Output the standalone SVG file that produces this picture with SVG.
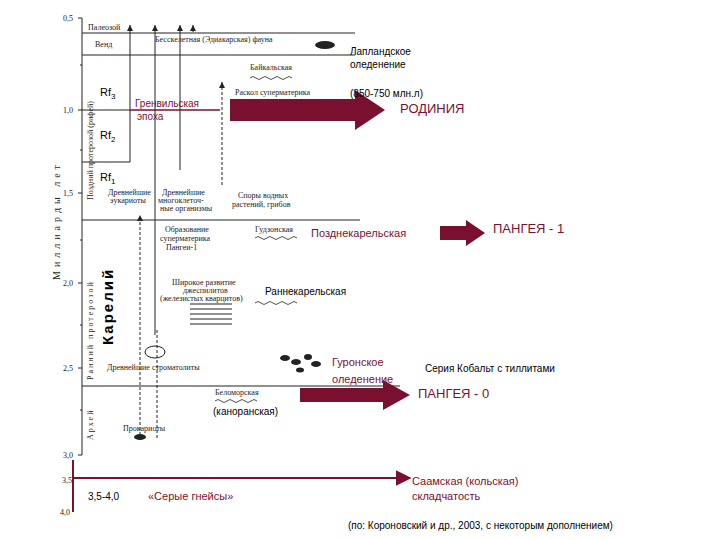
<svg xmlns="http://www.w3.org/2000/svg" width="720" height="540" viewBox="0 0 720 540">
<style>
.s{font-family:"Liberation Serif",serif;font-size:8px;fill:#222}
.a{font-family:"Liberation Sans",sans-serif;font-size:10px;fill:#000}
.r{font-family:"Liberation Sans",sans-serif;fill:#7a1030}
.ln{stroke:#222;stroke-width:1;fill:none}
.d{stroke:#222;stroke-width:1;stroke-dasharray:3 2;fill:none}
.w{stroke:#222;stroke-width:0.8;fill:none}
.big{fill:#7a1030}
</style>
<defs>
<marker id="ah" viewBox="0 0 6 6" refX="6" refY="3" markerWidth="6" markerHeight="6" orient="auto"><path d="M0,0 L6,3 L0,6Z" fill="#222"/></marker>
<marker id="rh" viewBox="0 0 10 10" refX="9" refY="5" markerWidth="8" markerHeight="8" orient="auto"><path d="M0,0 L10,5 L0,10Z" fill="#7a1030"/></marker>
<path id="wv" d="M0,0 q3,-3 6,0 q3,3 6,0 q3,-3 6,0 q3,3 6,0 q3,-3 6,0 q3,3 6,0 q3,-3 6,0"/>
</defs>
<rect width="720" height="540" fill="#fff"/>
<g id="axes">
<line class="ln" x1="82" y1="18" x2="82" y2="455"/>
<line class="ln" x1="78" y1="18" x2="82" y2="18"/>
<g class="ln"><line x1="78" y1="110" x2="82" y2="110"/><line x1="78" y1="193" x2="82" y2="193"/><line x1="78" y1="283" x2="82" y2="283"/><line x1="78" y1="368" x2="82" y2="368"/><line x1="78" y1="455" x2="82" y2="455"/>
<line x1="80" y1="65" x2="82" y2="65"/><line x1="80" y1="150" x2="82" y2="150"/><line x1="80" y1="240" x2="82" y2="240"/><line x1="80" y1="325" x2="82" y2="325"/><line x1="80" y1="410" x2="82" y2="410"/></g>
<text class="s" x="63" y="21">0,5</text><text class="s" x="63" y="113">1,0</text><text class="s" x="63" y="196">1,5</text><text class="s" x="63" y="286">2,0</text><text class="s" x="63" y="371">2,5</text><text class="s" x="63" y="458">3,0</text>
<text class="s" x="62" y="483">3,5</text><text class="s" x="60" y="515">4,0</text>
<text class="s" style="font-size:10px;letter-spacing:4px" transform="translate(60,280) rotate(-90)">Миллиарды лет</text>
<text class="s" transform="translate(93,200) rotate(-90)">Поздний протерозой (рифей)</text>
<text class="s" style="letter-spacing:2px" transform="translate(93,380) rotate(-90)">Ранний протерозой</text>
<text class="a" style="font-size:15px;font-weight:bold;letter-spacing:2px" transform="translate(113,345) rotate(-90)">Карелий</text>
<text class="s" style="letter-spacing:2px" transform="translate(93,440) rotate(-90)">Архей</text>
<line x1="73" y1="460" x2="73" y2="512" stroke="#7a1030" stroke-width="2"/>
<line x1="73" y1="478" x2="410" y2="478" stroke="#7a1030" stroke-width="2" marker-end="url(#rh)"/>
</g>
<g id="grid" class="ln">
<line x1="82" y1="33" x2="355" y2="33"/><line x1="82" y1="55" x2="355" y2="55"/>
<line x1="82" y1="110" x2="130" y2="110"/><line x1="82" y1="162" x2="130" y2="162"/>
<line x1="82" y1="220" x2="360" y2="220"/><line x1="82" y1="386" x2="400" y2="386"/>
</g>
<g id="connectors">
<line class="ln" x1="130" y1="162" x2="130" y2="25" marker-end="url(#ah)"/>
<line class="ln" x1="155" y1="335" x2="155" y2="25" marker-end="url(#ah)"/>
<line class="ln" x1="180" y1="170" x2="180" y2="25" marker-end="url(#ah)"/>
<line class="ln" x1="193" y1="32" x2="193" y2="25" marker-end="url(#ah)"/>
<line class="d" x1="222" y1="185" x2="222" y2="82" marker-end="url(#ah)"/>
<line class="d" x1="140" y1="440" x2="140" y2="215" marker-end="url(#ah)"/>
<line class="d" x1="157" y1="330" x2="157" y2="440"/>
<line x1="130" y1="110" x2="220" y2="110" stroke="#7a1030" stroke-width="1.5"/>
</g>
<g id="arrows">
<path class="big" d="M230,99 H355 V90 L385,110 L355,130 V121 H230Z"/>
<path class="big" d="M440,226 H466 V220 L485,233 L466,246 V240 H440Z"/>
<path class="big" d="M300,388 H383 V380 L410,395 L383,410 V402 H300Z"/>
</g>
<g id="labels">
<text class="s" x="88" y="30">Палеозой</text>
<text class="s" x="95" y="47">Венд</text>
<text class="s" x="155" y="42">Бесскелетная (Эдиакарская) фауна</text>
<ellipse cx="325" cy="45" rx="10" ry="4" fill="#222"/>
<text class="a" x="100" y="96" style="font-size:11px">Rf<tspan dy="3" font-size="8">3</tspan></text>
<text class="a" x="100" y="139" style="font-size:11px">Rf<tspan dy="3" font-size="8">2</tspan></text>
<text class="a" x="100" y="181" style="font-size:11px">Rf<tspan dy="3" font-size="8">1</tspan></text>
<text class="r" x="135" y="107" font-size="10">Гренвильская</text>
<text class="r" x="137" y="120" font-size="10">эпоха</text>
<text class="s" x="250" y="70">Байкальская</text>
<use href="#wv" x="250" y="78" class="w"/>
<text class="s" x="235" y="95">Раскол суперматерика</text>
<text class="a" x="350" y="55" font-size="9">Лапландское</text>
<text class="a" x="350" y="68" font-size="9">оледенение</text>
<text class="a" x="350" y="97" font-size="9">(850-750 млн.л)</text>
<text class="a" x="400" y="113" style="font-size:13px;fill:#7a1030">РОДИНИЯ</text>
<text class="s" x="108" y="195">Древнейшие</text><text class="s" x="110" y="203">эукариоты</text>
<text class="s" x="162" y="195">Древнейшие</text><text class="s" x="158" y="203">многоклеточ-</text><text class="s" x="160" y="211">ные организмы</text>
<text class="s" x="238" y="198">Споры водных</text><text class="s" x="232" y="207">растений, грибов</text>
<text class="s" x="165" y="232">Образование</text><text class="s" x="160" y="241">суперматерика</text><text class="s" x="166" y="250">Пангеи-1</text>
<text class="s" x="255" y="232">Гудзонская</text><use href="#wv" x="255" y="238" class="w"/>
<text class="r" x="311" y="237" font-size="11">Позднекарельская</text>
<text class="a" x="493" y="233" style="font-size:13px;fill:#7a1030">ПАНГЕЯ - 1</text>
<text class="s" x="172" y="285">Широкое развитие</text><text class="s" x="183" y="293">джеспилитов</text><text class="s" x="160" y="301">(железистых кварцитов)</text>
<g stroke="#222" stroke-width="1.2"><line x1="190" y1="304" x2="232" y2="304"/><line x1="190" y1="309" x2="232" y2="309"/><line x1="190" y1="314" x2="232" y2="314"/><line x1="190" y1="319" x2="232" y2="319"/><line x1="190" y1="324" x2="232" y2="324"/></g>
<text class="a" x="265" y="295" font-size="9">Раннекарельская</text><use href="#wv" x="255" y="303" class="w"/>
<ellipse cx="155" cy="352" rx="10" ry="6" fill="none" stroke="#222"/>
<text class="s" x="107" y="370">Древнейшие строматолиты</text>
<g fill="#222"><ellipse cx="285" cy="358" rx="5" ry="3"/><ellipse cx="296" cy="362" rx="5" ry="3"/><ellipse cx="308" cy="357" rx="4" ry="3"/><ellipse cx="300" cy="370" rx="4" ry="2.5"/><ellipse cx="316" cy="364" rx="5" ry="3"/></g>
<text class="r" x="332" y="366" font-size="11">Гуронское</text><text class="r" x="332" y="383" font-size="11">оледенение</text>
<text class="a" x="425" y="372" font-size="11">Серия Кобальт с тиллитами</text>
<text class="a" x="418" y="398" style="font-size:13px;fill:#7a1030">ПАНГЕЯ - 0</text>
<text class="s" x="215" y="395">Беломорская</text><use href="#wv" x="215" y="401" class="w"/>
<text class="a" x="213" y="415" font-size="9">(каноранская)</text>
<text class="s" x="123" y="431">Прокариоты</text>
<ellipse cx="140" cy="437" rx="6" ry="3" fill="#222"/>
<text class="a" x="88" y="500" font-size="9">3,5-4,0</text>
<text class="r" x="148" y="500" font-size="11">«Серые гнейсы»</text>
<text class="r" x="412" y="485" font-size="11">Саамская (кольская)</text>
<text class="r" x="412" y="500" font-size="11">складчатость</text>
<text class="a" x="348" y="529" font-size="9">(по: Короновский и др., 2003, с некоторым дополнением)</text>
</g>
</svg>
